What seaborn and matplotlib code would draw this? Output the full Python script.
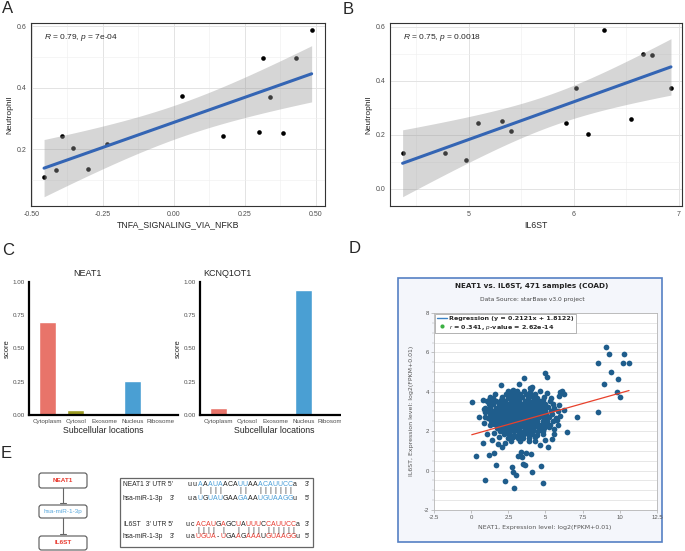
import numpy as np
import pandas as pd
import matplotlib
matplotlib.use("Agg")
import matplotlib.pyplot as plt
import seaborn as sns
from matplotlib.patches import Rectangle, FancyBboxPatch
from matplotlib.lines import Line2D

# ================= DATA =================
# A: TNFA_SIGNALING_VIA_NFKB score vs Neutrophil
tnfa_score = [-0.457, -0.416, -0.395, -0.355, -0.304, -0.237, 0.027,
              0.174, 0.298, 0.314, 0.340, 0.383, 0.431, 0.485]
neutro_a = [0.108, 0.132, 0.244, 0.204, 0.134, 0.215, 0.372,
            0.244, 0.256, 0.495, 0.371, 0.253, 0.496, 0.587]

# B: IL6ST expression vs Neutrophil
il6st_expr = [4.368, 4.771, 4.971, 5.089, 5.314, 5.397, 5.921,
              6.022, 6.130, 6.286, 6.546, 6.654, 6.743, 6.924]
neutro_b = [0.132, 0.133, 0.107, 0.245, 0.253, 0.213, 0.244,
            0.373, 0.205, 0.588, 0.258, 0.498, 0.497, 0.373]

# C: subcellular localisation scores
locations = ["Cytoplasm", "Cytosol", "Exosome", "Nucleus", "Ribosome"]
loc_colors = ["#E8746A", "#9C9B22", "#2F7A4E", "#4A9FD3", "#C86CC8"]
neat1_score = [0.703, 0.035, 0.012, 0.256, 0.002]
kcnq_score = [0.050, 0.0, 0.0, 0.942, 0.0]

# D: starBase NEAT1 vs IL6ST (COAD)
coad_points = [
    # outer points
    (0.04, 3.49), (0.33, 0.73), (0.80, 3.60), (0.93, -0.48), (0.80, 1.39),
    (1.20, 0.77), (1.56, 0.88), (1.67, 0.26), (1.04, 1.87), (1.78, 1.36),
    (2.04, 4.32), (2.27, -0.51), (2.07, 1.19), (2.73, 0.20), (2.82, -0.08),
    (3.00, -0.20), (2.89, -0.90), (3.22, 4.42), (3.56, 4.68), (3.44, 0.68),
    (3.16, 0.73), (3.33, 0.94), (3.67, 0.88), (4.00, 0.85), (3.51, 0.31),
    (3.62, 0.26), (4.07, -0.08), (4.67, 0.22), (4.80, -0.63), (5.20, 1.21),
    (5.44, 1.62), (5.60, 1.84), (5.87, 2.33), (5.78, 2.59), (5.00, 4.93),
    (5.07, 4.76), (6.00, 4.00), (6.13, 4.03), (6.22, 3.90), (5.89, 3.78),
    (5.89, 3.32), (6.27, 3.08), (6.47, 1.96), (7.11, 2.72), (8.56, 2.98),
    (9.07, 6.29), (9.29, 5.90), (10.27, 5.92), (8.51, 5.48), (10.18, 5.44),
    (10.62, 5.46), (9.38, 5.03), (8.93, 4.42), (9.87, 4.64), (9.82, 4.00),
    (10.00, 3.72), (0.85, 2.41), (0.96, 2.97), (0.56, 2.71), (1.22, 3.57),
    (0.89, 3.15), (0.96, 2.72), (1.29, 2.30), (1.56, 1.90), (2.49, 4.03),
    (2.84, 4.08), (4.02, 4.12), (4.08, 4.25), (3.95, 4.20), (4.60, 4.05),
    (5.10, 3.95), (5.55, 2.10), (5.95, 2.78), (1.40, 1.55), (2.30, 1.40),
    (4.60, 1.30), (4.95, 1.55), (1.90, 1.70), (5.40, 3.70), (4.30, 1.50),
    # dense core
    (2.75, 4.05), (3.10, 4.02), (3.55, 4.06), (3.95, 3.98),
    (1.60, 3.88), (2.35, 3.90), (2.60, 3.86), (2.95, 3.89), (3.30, 3.87), (3.70, 3.90),
    (4.05, 3.86), (4.30, 3.89),
    (1.25, 3.72), (1.50, 3.70), (2.10, 3.74), (2.45, 3.71), (2.80, 3.73), (3.15, 3.70),
    (3.45, 3.74), (3.80, 3.71), (4.15, 3.73), (4.45, 3.70), (4.90, 3.72),
    (1.05, 3.55), (1.35, 3.57), (1.70, 3.54), (2.00, 3.56), (2.30, 3.53), (2.65, 3.56),
    (2.95, 3.54), (3.25, 3.57), (3.60, 3.55), (3.90, 3.53), (4.20, 3.56), (4.55, 3.54),
    (4.85, 3.57), (5.30, 3.55),
    (1.20, 3.38), (1.50, 3.40), (1.85, 3.37), (2.15, 3.39), (2.45, 3.36), (2.80, 3.39),
    (3.10, 3.37), (3.40, 3.40), (3.75, 3.38), (4.05, 3.36), (4.35, 3.39), (4.65, 3.37),
    (5.00, 3.40), (5.50, 3.38),
    (0.95, 3.20), (1.30, 3.22), (1.65, 3.19), (1.95, 3.21), (2.30, 3.18), (2.60, 3.22),
    (2.90, 3.20), (3.20, 3.19), (3.55, 3.22), (3.85, 3.20), (4.15, 3.18), (4.50, 3.21),
    (4.80, 3.19), (5.15, 3.22), (5.60, 3.20),
    (1.15, 3.03), (1.45, 3.05), (1.80, 3.02), (2.10, 3.04), (2.40, 3.01), (2.75, 3.05),
    (3.05, 3.03), (3.35, 3.02), (3.65, 3.05), (3.95, 3.03), (4.30, 3.01), (4.60, 3.04),
    (4.95, 3.02), (5.35, 3.05), (5.85, 3.03),
    (1.30, 2.86), (1.60, 2.88), (1.95, 2.85), (2.25, 2.87), (2.55, 2.84), (2.85, 2.88),
    (3.20, 2.86), (3.50, 2.85), (3.80, 2.88), (4.10, 2.86), (4.40, 2.84), (4.75, 2.87),
    (5.05, 2.85), (5.45, 2.88),
    (1.10, 2.69), (1.45, 2.71), (1.75, 2.68), (2.05, 2.70), (2.40, 2.67), (2.70, 2.71),
    (3.00, 2.69), (3.30, 2.68), (3.60, 2.71), (3.95, 2.69), (4.25, 2.67), (4.55, 2.70),
    (4.90, 2.68), (5.25, 2.71), (5.70, 2.69),
    (1.35, 2.52), (1.65, 2.54), (1.95, 2.51), (2.30, 2.53), (2.60, 2.50), (2.90, 2.54),
    (3.25, 2.52), (3.55, 2.51), (3.85, 2.54), (4.15, 2.52), (4.45, 2.50), (4.80, 2.53),
    (5.10, 2.51), (5.50, 2.54),
    (1.55, 2.35), (1.85, 2.37), (2.15, 2.34), (2.50, 2.36), (2.80, 2.33), (3.10, 2.37),
    (3.40, 2.35), (3.70, 2.34), (4.00, 2.37), (4.35, 2.35), (4.65, 2.33), (4.95, 2.36),
    (5.30, 2.34),
    (1.75, 2.18), (2.05, 2.20), (2.40, 2.17), (2.70, 2.19), (3.00, 2.16), (3.30, 2.20),
    (3.65, 2.18), (3.95, 2.17), (4.25, 2.20), (4.55, 2.18), (4.90, 2.16), (5.25, 2.19),
    (1.95, 2.01), (2.30, 2.03), (2.60, 2.00), (2.90, 2.02), (3.20, 1.99), (3.55, 2.03),
    (3.85, 2.01), (4.15, 2.00), (4.50, 2.03), (4.85, 2.01),
    (2.20, 1.84), (2.55, 1.86), (2.85, 1.83), (3.20, 1.85), (3.50, 1.82), (3.80, 1.86),
    (4.10, 1.84), (4.45, 1.83), (4.80, 1.86),
    (2.45, 1.67), (2.80, 1.69), (3.15, 1.66), (3.50, 1.68), (3.90, 1.65), (4.30, 1.69),
    (2.70, 1.50), (3.30, 1.52), (3.90, 1.49),
]
coad_slope = 0.2121
coad_intercept = 1.8122

# E: binding sites
neat1_utr = "uuAAAUAACAUUAAACAUUCCa"
mir_1 = "uaUGUAUGAAGAAAUGUAAGGu"
neat1_pairs = [2, 4, 5, 6, 10, 11, 14, 15, 16, 17, 18, 19, 20]
il6st_utr = "ucACAUGAGCUAUUUCCAUUCCa"
mir_2 = "uaUGUA-UGAAGAAAUGUAAGGu"
il6st_pairs = [2, 3, 4, 5, 7, 10, 12, 13, 14, 16, 17, 18, 19, 20, 21]

T_975 = 2.179  # t quantile, df = 12

# ================= STYLE =================
sns.set_style("white")
plt.rcParams["font.family"] = ["Liberation Sans", "DejaVu Sans"]
plt.rcParams["axes.unicode_minus"] = False
plt.rcParams["mathtext.fontset"] = "custom"
plt.rcParams["mathtext.it"] = "Liberation Sans:italic"
plt.rcParams["mathtext.rm"] = "Liberation Sans"

W, H = 685, 551
fig = plt.figure(figsize=(W / 100, H / 100), dpi=100)


def px_axes(x0, y0, x1, y1, **kw):
    return fig.add_axes([x0 / W, 1 - y1 / H, (x1 - x0) / W, (y1 - y0) / H], **kw)


# background overlay (D frame)
bg = px_axes(0, 0, W, H)
bg.set_xlim(0, W)
bg.set_ylim(H, 0)
bg.axis("off")
bg.add_patch(Rectangle((398, 278), 264, 264, facecolor="#f4f6fb",
                       edgecolor="#5580c4", lw=1.2))


def lm_band(x, y, grid):
    x = np.asarray(x)
    y = np.asarray(y)
    b, a = np.polyfit(x, y, 1)
    n = len(x)
    s = np.sqrt(np.sum((y - (a + b * x)) ** 2) / (n - 2))
    sxx = np.sum((x - x.mean()) ** 2)
    yhat = a + b * grid
    se = s * np.sqrt(1 / n + (grid - x.mean()) ** 2 / sxx)
    return yhat, yhat - T_975 * se, yhat + T_975 * se


def cor_panel(ax, x, y, xlab, note, xlim, ylim, xmaj, xmin, ymaj, ymin, xfmt):
    grid = np.linspace(min(x), max(x), 100)
    yhat, lo, hi = lm_band(x, y, grid)
    sns.scatterplot(x=x, y=y, ax=ax, color="black", s=11, linewidth=0, zorder=2)
    ax.fill_between(grid, lo, hi, color="#999999", alpha=0.4, lw=0, zorder=3)
    sns.lineplot(x=grid, y=yhat, ax=ax, color="#3465b4", lw=2.2, zorder=4)
    ax.set_xlim(*xlim)
    ax.set_ylim(*ylim)
    ax.set_xticks(xmaj)
    ax.set_xticklabels([xfmt(v) for v in xmaj])
    ax.set_xticks(xmin, minor=True)
    ax.set_yticks(ymaj)
    ax.set_yticklabels([f"{v:.1f}" for v in ymaj])
    ax.set_yticks(ymin, minor=True)
    ax.grid(which="major", color="#e3e3e3", lw=0.7)
    ax.grid(which="minor", color="#eeeeee", lw=0.4)
    ax.set_axisbelow(True)
    for sp in ax.spines.values():
        sp.set_color("#333333")
        sp.set_linewidth(0.8)
    ax.tick_params(which="major", length=2, width=0.5, color="#333333",
                   labelsize=5, labelcolor="#4d4d4d", pad=1.5)
    ax.tick_params(which="minor", length=0)
    ax.set_xlabel(xlab, fontsize=6.3, labelpad=2)
    ax.set_ylabel("Neutrophil", fontsize=6, labelpad=2)
    ax.text(0.044, 0.923, note, transform=ax.transAxes, fontsize=6, va="center")


# ================= A =================
axA = px_axes(31, 23, 325, 206)
cor_panel(axA, tnfa_score, neutro_a, "TNFA_SIGNALING_VIA_NFKB",
          r"$\it{R}$ = 0.79, $\it{p}$ = 7e-04",
          (-0.503, 0.532), (0.015, 0.61),
          [-0.5, -0.25, 0, 0.25, 0.5], [-0.375, -0.125, 0.125, 0.375],
          [0.2, 0.4, 0.6], [0.1, 0.3, 0.5], lambda v: f"{v:.2f}")

# ================= B =================
axB = px_axes(390, 23, 682, 206)
cor_panel(axB, il6st_expr, neutro_b, "IL6ST",
          r"$\it{R}$ = 0.75, $\it{p}$ = 0.0018",
          (4.248, 7.029), (-0.063, 0.614),
          [5, 6, 7], [4.5, 5.5, 6.5],
          [0.0, 0.2, 0.4, 0.6], [0.1, 0.3, 0.5], lambda v: f"{v:g}")

# ================= C =================
axC1 = px_axes(29, 282, 178, 415)
axC2 = px_axes(200, 282, 349, 415)
for ax, vals in [(axC1, neat1_score), (axC2, kcnq_score)]:
    sns.barplot(x=locations, y=vals, hue=locations, palette=loc_colors,
                width=0.6, saturation=1, legend=False, ax=ax)
    ax.set_xlim(-0.65, 4.6)
    ax.set_ylim(0, 1)
    ax.set_yticks([0, 0.25, 0.5, 0.75, 1.0])
    ax.set_yticklabels(["0.00", "0.25", "0.50", "0.75", "1.00"])
    sns.despine(ax=ax)
    for side in ["left", "bottom"]:
        ax.spines[side].set_color("black")
        ax.spines[side].set_linewidth(1.6)
    ax.tick_params(length=2, width=0.6, color="black", labelsize=4.5,
                   labelcolor="#4d4d4d", pad=1)
    ax.set_xlabel("Subcellular locations", fontsize=6.3, labelpad=1)
    ax.set_ylabel("score", fontsize=5.5, labelpad=1)

# ================= D =================
axD = px_axes(434, 313, 657, 510, zorder=1)
coad_df = pd.DataFrame(coad_points, columns=["neat1", "il6st"])
sns.scatterplot(data=coad_df, x="neat1", y="il6st", ax=axD, color="#1f5d8c",
                s=17, linewidth=0, zorder=3)
fit_x = np.array([coad_df["neat1"].min(), coad_df["neat1"].max()])
sns.lineplot(x=fit_x, y=coad_slope * fit_x + coad_intercept, ax=axD,
             color="#e8412c", lw=0.9, zorder=4)
axD.set_xlim(-2.5, 12.5)
axD.set_ylim(-2, 8)
axD.set_xticks([-2.5, 0, 2.5, 5, 7.5, 10, 12.5])
axD.set_xticklabels(["-2.5", "0", "2.5", "5", "7.5", "10", "12.5"])
axD.set_yticks([-2, 0, 2, 4, 6, 8])
axD.set_yticks(np.arange(-2, 8.01, 0.5), minor=True)
axD.grid(axis="y", which="both", color="#dddddd", lw=0.5)
axD.set_axisbelow(True)
for sp in axD.spines.values():
    sp.set_color("#b5b5b5")
    sp.set_linewidth(0.6)
axD.tick_params(which="major", length=2, width=0.4, color="#999999",
                labelsize=4.3, labelcolor="#555555", pad=1.5,
                bottom=True, left=True)
axD.tick_params(which="minor", length=1.2, width=0.3, color="#aaaaaa", left=True)
axD.set_xlabel("")
axD.set_ylabel("")
leg = axD.legend(
    handles=[Line2D([0], [0], color="#3b82c4", lw=1.0),
             Line2D([0], [0], marker="o", color="none", markerfacecolor="#3cb043",
                    markeredgecolor="none", markersize=3)],
    labels=["Regression (y = 0.2121x + 1.8122)",
            r"$\it{r}$ = 0.341, $\it{p}$-value = 2.62e-14"],
    loc="upper left", borderaxespad=0.15, prop={"size": 4.6, "weight": "bold",
                                                "family": "DejaVu Sans"},
    frameon=True, fancybox=False, edgecolor="#999999", framealpha=1,
    handlelength=1.6, handletextpad=0.4, borderpad=0.25, labelspacing=0.25)
leg.get_frame().set_linewidth(0.5)

# ================= FOREGROUND OVERLAY =================
fg = px_axes(0, 0, W, H, zorder=5)
fg.set_xlim(0, W)
fg.set_ylim(H, 0)
fg.axis("off")
# crop of C right panel
fg.add_patch(Rectangle((341, 265), 55, 180, facecolor="white", edgecolor="none"))

for lab, x, y in [("A", 2, 13), ("B", 343, 14), ("C", 2, 255), ("D", 349, 253), ("E", 1, 458)]:
    fg.text(x, y, lab, fontsize=12, va="baseline", ha="left")

fg.text(87, 273, "NEAT1", fontsize=6.5, ha="center", va="center")
fg.text(227, 273, "KCNQ1OT1", fontsize=6.5, ha="center", va="center")

# D texts
fg.text(532, 286, "NEAT1 vs. IL6ST, 471 samples (COAD)", fontsize=5.2,
        fontweight="bold", family="DejaVu Sans", ha="center", va="center", color="#222222")
fg.text(532, 299, "Data Source: starBase v3.0 project", fontsize=4.3,
        family="DejaVu Sans", ha="center", va="center", color="#444444")
fg.text(545, 528, "NEAT1, Expression level: log2(FPKM+0.01)", fontsize=4.5,
        family="DejaVu Sans", ha="center", va="center", color="#555555")
fg.text(412, 411, "IL6ST, Expression level: log2(FPKM+0.01)", fontsize=4.5,
        family="DejaVu Sans", ha="center", va="center", color="#555555", rotation=90)

# E flow diagram
for (y0, y1, name, col, bold) in [(473, 488, "NEAT1", "#e8392e", True),
                                   (505, 518, "hsa-miR-1-3p", "#5aa8dc", False),
                                   (536, 550, "IL6ST", "#e8392e", True)]:
    fg.add_patch(FancyBboxPatch((39, y0), 48, y1 - y0,
                                boxstyle="round,pad=0,rounding_size=2.5",
                                facecolor="white", edgecolor="#555555", lw=0.8))
    fg.text(63, (y0 + y1) / 2, name, fontsize=4.6, color=col, ha="center", va="center",
            fontweight="bold" if bold else "normal")
for (ya, yb) in [(488, 503), (518, 534)]:
    fg.plot([63, 63], [ya, yb], color="#666666", lw=0.8)
    fg.plot([60, 66], [yb, yb], color="#666666", lw=0.8)

# E alignment box
fg.add_patch(Rectangle((120, 478), 193, 69, facecolor="white", edgecolor="#666666", lw=0.9))
rows = [
    (484, "NEAT1 3' UTR 5'", None, neat1_utr, neat1_pairs, "#4a9fd8", "3'"),
    (498, "hsa-miR-1-3p", "3'", mir_1, neat1_pairs, "#4a9fd8", "5'"),
    (524, "IL6ST", "3' UTR 5'", il6st_utr, il6st_pairs, "#e8392e", "3'"),
    (537, "hsa-miR-1-3p", "3'", mir_2, il6st_pairs, "#e8392e", "5'"),
]
step = 5.0
for (y, lab, lab2, seq, pairs, col, end) in rows:
    fg.text(123, y, lab, fontsize=4.8, va="center", ha="left")
    if lab2 is not None:
        fg.text(146 if lab2 != "3'" else 170, y, lab2, fontsize=4.8, va="center", ha="left")
    x0 = 188 if len(seq) == 23 else 190
    for i, ch in enumerate(seq):
        fg.text(x0 + i * step, y, ch, fontsize=5, va="center", ha="center",
                color=col if i in pairs else "#222222")
    fg.text(305, y, end, fontsize=4.8, va="center", ha="left")
for (y, pairs, n) in [(491, neat1_pairs, 22), (530.5, il6st_pairs, 23)]:
    x0 = 188 if n == 23 else 190
    for i in pairs:
        fg.text(x0 + i * step, y, "|", fontsize=5, va="center", ha="center", color="#333333")

fig.savefig("out.png", dpi=100)
